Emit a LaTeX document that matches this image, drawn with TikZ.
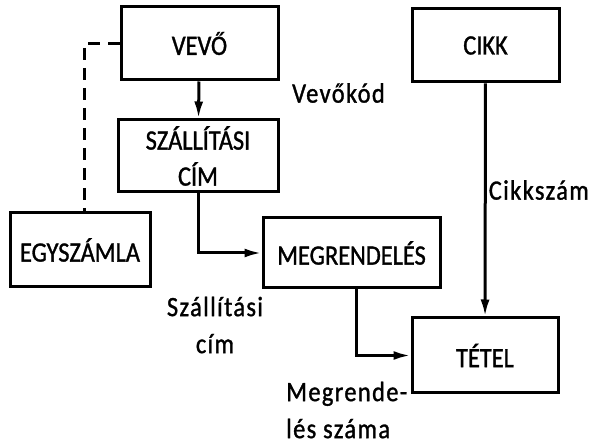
\documentclass[tikz,border=0pt]{standalone}
\usepackage{fontspec}
\setmainfont{Carlito}[FakeStretch=0.87, FakeBold=1.2]
\usetikzlibrary{arrows.meta}

\tikzset{
  entity/.style={draw, line width=3pt, inner sep=0pt, align=center,
    font=\fontsize{28}{36}\selectfont},
  rel/.style={line width=3pt, -{Latex[length=17pt,width=9pt]}},
  keylabel/.style={font=\fontsize{28}{37}\selectfont\addfontfeature{LetterSpace=5}, inner sep=0pt}
}

\begin{document}
\begin{tikzpicture}[x=1pt, y=-1pt]
  \useasboundingbox (0,0) rectangle (592,446);

  % entities
  \node[entity, minimum width=157pt, minimum height=73pt] (vevo)  at (199.5,43.5) {VEVŐ};
  \node[entity, minimum width=160pt, minimum height=72pt] (szall) at (198,156) {SZÁLLÍTÁSI\\CÍM};
  \node[entity, minimum width=140pt, minimum height=74pt] (egy)   at (80,250) {EGYSZÁMLA};
  \node[entity, minimum width=177pt, minimum height=70pt] (megr)  at (351.5,253) {MEGRENDELÉS};
  \node[entity, minimum width=147pt, minimum height=73pt] (cikk)  at (485.5,45.5) {CIKK};
  \node[entity, minimum width=146pt, minimum height=75pt] (tetel) at (485,355.5) {TÉTEL};

  % connectors
  \draw[rel] (vevo) -- (szall);
  \draw[line width=3pt, dash pattern=on 12pt off 8pt] (vevo.west) -| ([xshift=4pt]egy.north);
  \draw[rel] (szall.south) |- (megr.west);
  \draw[rel] ([xshift=5pt]megr.south) |- (tetel.west);
  \draw[rel] (cikk) -- (tetel);

  % key labels
  \node[keylabel, anchor=west] (lvevo) at (292,93) {Vevőkód};
  \node[keylabel, anchor=east] (lcikk) at (589,190) {Cikkszám};
  \node[keylabel, align=center] (lszall) at (215,325) {Szállítási\\cím};
  \node[keylabel, align=left, anchor=west] (lmegr) at (286,410) {Megrende-\\lés száma};
\end{tikzpicture}
\end{document}
